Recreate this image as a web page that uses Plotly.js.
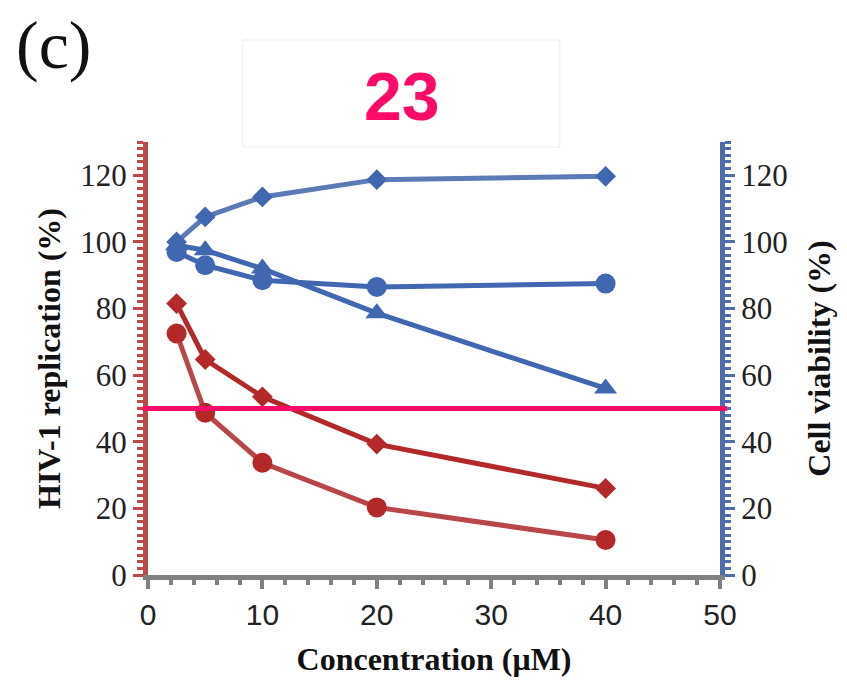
<!DOCTYPE html>
<html>
<head>
<meta charset="utf-8">
<script src="https://cdn.plot.ly/plotly-3.0.1.min.js"></script>
<style>
  html, body { margin: 0; padding: 0; background: #ffffff; }
  #chart { width: 847px; height: 681px; }
</style>
</head>
<body>
<div id="chart"></div>
<script>
// ---- data ----
const concentration = [2.5, 5, 10, 20, 40];            // µM
const hivDiamond    = [81.5, 64.7, 53.5, 39.3, 26];    // HIV-1 replication (%)
const hivCircle     = [72.5, 48.7, 33.7, 20.3, 10.5];  // HIV-1 replication (%)
const viabDiamond   = [100, 107.5, 113.5, 118.7, 119.7]; // Cell viability (%)
const viabCircle    = [97, 93, 88.5, 86.5, 87.5];        // Cell viability (%)
const viabTriangle  = [99, 97.5, 92, 78.6, 56];          // Cell viability (%)
const threshold = 50;
const panelLabel = '(c)';
const compoundLabel = '23';
const yTickVals = [0, 20, 40, 60, 80, 100, 120];
const xTickVals = [0, 10, 20, 30, 40, 50];

const RED = '#b3292a';
const RED_LIGHT = '#b8474a';
const BLUE = '#4067af';
const BLUE_LIGHT = '#5b7ab6';
const PINK = '#ff0a68';

const traces = [
  {x: concentration, y: viabDiamond, yaxis: 'y2', mode: 'lines+markers',
   line: {color: BLUE_LIGHT, width: 5}, marker: {symbol: 'diamond', size: 16, color: BLUE}},
  {x: concentration, y: viabCircle, yaxis: 'y2', mode: 'lines+markers',
   line: {color: BLUE, width: 5}, marker: {symbol: 'circle', size: 20, color: BLUE}},
  {x: concentration, y: viabTriangle, yaxis: 'y2', mode: 'lines+markers',
   line: {color: BLUE, width: 5}, marker: {symbol: 'triangle-up', size: 20, color: BLUE}},
  {x: concentration, y: hivDiamond, yaxis: 'y', mode: 'lines+markers',
   line: {color: RED, width: 5}, marker: {symbol: 'diamond', size: 16, color: RED}},
  {x: concentration, y: hivCircle, yaxis: 'y', mode: 'lines+markers',
   line: {color: RED_LIGHT, width: 5}, marker: {symbol: 'circle', size: 20, color: RED}}
];

const serif = 'Liberation Serif, Times New Roman, serif';
const sans = 'Liberation Sans, Arial, sans-serif';

const layout = {
  width: 847, height: 681,
  margin: {l: 148, r: 127, t: 142, b: 106},
  paper_bgcolor: '#ffffff', plot_bgcolor: '#ffffff',
  showlegend: false,
  title: {
    text: '<b>' + compoundLabel + '</b>',
    font: {family: sans, size: 68, color: PINK},
    xref: 'paper', x: 0.4438, xanchor: 'center',
    yref: 'container', y: 1 - 96 / 681, yanchor: 'middle'
  },
  xaxis: {
    range: [0, 50], tickvals: xTickVals, showgrid: false, zeroline: false,
    showline: true, linecolor: '#808080', linewidth: 5,
    ticks: 'outside', ticklen: 9, tickwidth: 4, tickcolor: '#808080',
    minor: {dtick: 2, ticks: 'outside', ticklen: 5, tickwidth: 4, tickcolor: '#808080'},
    tickfont: {family: sans, size: 30, color: '#222222'},
    title: {text: '<b>Concentration (μM)</b>', font: {family: serif, size: 32, color: '#111111'}, standoff: 19}
  },
  yaxis: {
    range: [0, 130], tickvals: yTickVals, showgrid: false, zeroline: false,
    showline: true, linecolor: '#bb4b4a', linewidth: 5,
    ticks: 'outside', ticklen: 10, tickwidth: 3, tickcolor: '#bb4b4a',
    minor: {dtick: 2, ticks: 'outside', ticklen: 6, tickwidth: 3, tickcolor: '#bb4b4a'},
    tickfont: {family: serif, size: 31, color: '#222222'},
    title: {text: '<b>HIV-1 replication (%)</b>', font: {family: serif, size: 32, color: '#111111'}, standoff: 12}
  },
  yaxis2: {
    range: [0, 130], tickvals: yTickVals, overlaying: 'y', side: 'right',
    showgrid: false, zeroline: false,
    showline: true, linecolor: '#4e6cae', linewidth: 5,
    ticks: 'outside', ticklen: 10, tickwidth: 3, tickcolor: '#4e6cae',
    minor: {dtick: 2, ticks: 'outside', ticklen: 6, tickwidth: 3, tickcolor: '#4e6cae'},
    tickfont: {family: serif, size: 31, color: '#222222'},
    title: {text: '<b>Cell viability (%)</b>', font: {family: serif, size: 32, color: '#111111'}, standoff: 22}
  },
  shapes: [
    {type: 'rect', xref: 'paper', yref: 'paper', x0: 0.1656, x1: 0.720, y0: 0.9885, y1: 1.2356,
     line: {color: '#ececec', width: 1}, fillcolor: '#ffffff', layer: 'below'},
    {type: 'line', xref: 'paper', yref: 'y', x0: -0.0093, x1: 1.012, y0: threshold, y1: threshold,
     line: {color: PINK, width: 5}, layer: 'above'}
  ],
  annotations: [
    {text: panelLabel, xref: 'paper', yref: 'paper', x: -0.165, y: 1.224,
     xanchor: 'center', yanchor: 'middle', showarrow: false,
     font: {family: serif, size: 68, color: '#111111'}}
  ]
};

Plotly.newPlot('chart', traces, layout, {displayModeBar: false, staticPlot: true});
</script>
</body>
</html>
